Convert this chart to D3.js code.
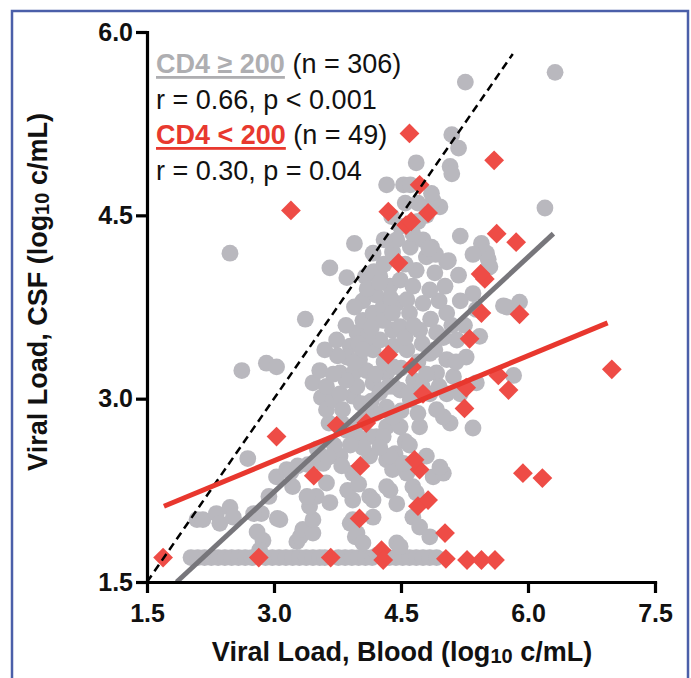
<!DOCTYPE html>
<html>
<head>
<meta charset="utf-8">
<script src="https://cdn.jsdelivr.net/npm/d3@7"></script>
<style>
  body { margin: 0; background: #fff; }
  svg text { font-family: "Liberation Sans", Arial, Helvetica, sans-serif; }
</style>
</head>
<body>
<div class="canva"></div>
<script>
// ticks
const xTicks = [1.5, 3.0, 4.5, 6.0, 7.5];
const yTicks = [1.5, 3.0, 4.5, 6.0];

// CD4 >= 200 (grey circles), [blood, csf]
const highCD4 = [
  [2.02,1.70],[2.10,1.70],[2.18,1.70],[2.26,1.70],[2.34,1.70],[2.42,1.70],[2.50,1.70],[2.58,1.70],
  [2.66,1.70],[2.74,1.70],[2.90,1.70],[2.98,1.70],[3.06,1.70],[3.14,1.70],[3.22,1.70],[3.30,1.70],
  [3.38,1.70],[3.46,1.70],[3.54,1.70],[3.60,1.70],[3.76,1.70],[3.84,1.70],[3.92,1.70],[4.00,1.70],
  [4.08,1.70],[4.16,1.70],[4.22,1.72],[4.36,1.70],[4.44,1.70],[4.52,1.70],[4.60,1.70],[4.68,1.70],
  [4.76,1.70],[4.84,1.70],[4.92,1.70],
  [2.09,2.01],[2.16,2.01],[2.32,2.06],[2.36,1.98],[2.48,2.11],[2.52,2.03],[2.80,1.91],[2.87,1.84],
  [2.83,1.76],[2.85,2.06],[3.07,2.01],[3.27,1.83],[3.31,1.87],[3.34,1.93],[3.46,1.90],[3.46,2.01],
  [3.42,2.12],[3.50,2.20],[3.66,2.15],[3.90,1.98],[3.93,2.01],[3.96,1.87],[3.98,1.90],[4.05,1.82],
  [3.93,2.17],[4.13,2.20],[4.17,2.03],[4.17,2.17],[4.37,2.25],[4.33,2.28],[4.45,1.82],[4.45,2.14],
  [4.49,1.79],[4.64,2.03],[4.72,1.95],[4.84,1.87],[4.64,2.28],[4.68,2.23],[4.57,2.39],[4.88,2.36],
  [5.00,2.39],[4.96,2.44],
  [2.69,2.51],[3.03,2.36],[3.15,2.42],[3.22,2.28],[3.39,2.20],[3.54,2.54],[3.58,2.47],[3.62,2.31],
  [3.78,2.53],[3.87,2.25],[3.93,2.39],[4.13,2.53],[4.33,2.50],[4.40,2.42],[4.43,2.55],[4.37,2.53],
  [4.53,2.47],[4.80,2.53],[3.51,2.59],[3.71,2.62],[3.64,2.52],[3.40,2.46],[3.20,2.40],[3.28,2.45],
  [2.94,2.20],[2.76,2.06],[3.04,2.02],[4.21,2.69],[4.33,2.77],[4.13,2.69],[3.98,2.69],[3.86,2.74],
  [4.29,2.69],[4.49,2.77],[4.72,2.77],[5.35,2.76],[5.08,2.80],[5.00,2.85],[4.05,2.60],[3.90,2.62],
  [4.25,2.60],[4.55,2.65],[3.80,2.45],[4.00,2.30],[4.60,2.62],[3.65,2.80],[3.80,2.80],[4.00,2.80],
  [4.40,2.85],
  [3.56,3.01],[3.62,2.91],[3.70,2.99],[3.81,2.91],[3.93,3.02],[4.03,2.96],[4.33,2.93],[4.61,2.99],
  [4.84,3.04],[4.92,2.91],[5.20,3.04],[5.04,3.04],[4.49,3.07],[3.46,3.13],[3.62,3.10],[3.78,3.04],
  [3.78,3.21],[3.94,3.21],[3.98,3.10],[4.09,3.23],[4.17,3.13],[4.33,3.21],[4.41,3.10],[4.41,3.26],
  [4.92,3.21],[5.12,3.18],[5.39,3.13],[5.83,3.19],[3.54,3.23],[2.62,3.23],[2.91,3.29],[3.03,3.26],
  [4.20,2.88],[4.10,2.85],[4.50,2.90],[4.70,2.88],[4.25,3.05],[4.65,3.15],[4.80,3.20],[4.15,2.98],
  [3.85,3.15],[4.20,3.20],[4.35,3.10],[4.50,3.25],[4.60,3.05],[4.75,3.10],[4.95,3.10],[3.70,3.20],
  [3.37,3.65],[3.74,3.48],[3.98,3.54],[4.05,3.64],[4.17,3.70],[4.29,3.75],[3.90,3.43],[3.86,3.34],
  [4.01,3.32],[4.17,3.40],[4.45,3.78],[4.40,3.56],[4.41,3.43],[4.25,3.48],[4.29,3.64],[4.49,3.59],
  [4.72,3.56],[4.92,3.54],[5.16,3.48],[5.43,3.51],[4.57,3.40],[4.84,3.37],[5.04,3.32],[5.27,3.34],
  [4.37,3.83],[4.57,3.81],[4.76,3.78],[5.04,3.70],[5.35,3.86],[5.39,3.73],[5.75,3.75],[5.90,3.79],
  [5.71,3.76],[4.10,3.50],[4.05,3.80],[4.20,3.85],[4.60,3.70],[4.85,3.65],[4.00,3.45],[4.30,3.30],
  [4.70,3.30],[5.10,3.60],[4.15,3.58],[3.95,3.30],[4.05,3.40],[3.75,3.35],[3.60,3.40],[3.85,3.60],
  [3.95,3.75],[4.40,3.70],[4.55,3.50],[4.65,3.60],[4.75,3.45],[4.90,3.40],[5.00,3.50],[5.15,3.30],
  [5.25,3.60],[5.20,3.80],[4.95,3.80],
  [3.95,4.27],[3.66,4.07],[3.86,3.99],[4.17,4.19],[4.25,4.00],[4.37,3.92],[4.49,3.97],[4.64,3.92],
  [4.84,3.89],[5.02,3.92],[4.68,4.05],[4.90,4.03],[5.18,4.01],[4.80,4.16],[5.04,4.12],[5.45,4.27],
  [5.51,4.19],[5.35,4.18],[5.55,4.08],[5.53,4.14],[5.53,4.07],[4.61,4.24],[4.86,4.24],[4.76,4.30],
  [4.64,4.35],[4.49,4.41],[4.39,4.49],[5.20,4.33],[4.91,4.18],[4.83,4.23],[5.06,4.13],[4.08,4.00],
  [4.18,4.04],[4.30,4.10],[4.40,4.20],[4.55,4.10],[2.48,4.19],[6.20,4.56],[4.10,3.90],[4.25,3.95],
  [4.45,4.30],[4.30,4.30],
  [4.96,4.57],[4.88,4.62],[4.86,4.68],[4.33,4.75],[4.53,4.75],[4.61,4.75],[4.68,4.93],
  [5.08,4.90],[5.10,4.84],[5.10,5.16],[5.18,5.05],[5.26,5.59],[6.32,5.67],[4.70,4.60],[4.55,4.60],
  [4.70,4.45],[4.80,4.50]
];

// CD4 < 200 (red diamonds), [blood, csf]
const lowCD4 = [
  [1.69,1.70],[2.82,1.70],[3.67,1.70],[4.27,1.76],[4.29,1.68],[5.03,1.69],[5.28,1.68],[5.45,1.68],
  [5.61,1.68],[5.02,1.90],[4.01,2.02],[4.70,2.12],[4.82,2.17],[4.72,2.42],[4.66,2.50],[4.02,2.45],
  [3.47,2.37],[5.94,2.39],[6.17,2.35],[3.03,2.69],[3.74,2.78],[4.09,2.80],[5.25,2.92],[5.27,3.09],
  [4.76,3.04],[5.77,3.07],[5.65,3.19],[4.63,3.26],[6.99,3.24],[4.35,3.36],[5.31,3.49],[5.45,3.70],
  [5.90,3.69],[5.49,3.98],[5.44,4.02],[4.47,4.11],[5.63,4.35],[5.86,4.28],[4.56,4.42],[4.62,4.45],
  [4.35,4.53],[4.82,4.52],[3.20,4.54],[4.72,4.75],[5.60,4.95],[4.60,5.17]
];

// fitted lines
const identityLine = [[1.5,1.5],[5.82,5.82]];
const highFit = [[1.85,1.5],[6.30,4.35]];
const lowFit = [[1.70,2.12],[6.94,3.62]];

const legendHigh = ["CD4 \u2265 200", " (n = 306)", "r = 0.66, p < 0.001"];
const legendLow = ["CD4 < 200", " (n = 49)", "r = 0.30, p = 0.04"];

const grey = "#b9b8be", red = "#ee4c46";

const svg = d3.select(".canva").append("svg")
              .attr("width", 691)
              .attr("height", 678);

// frame
svg.append("rect")
   .attr("x", 12).attr("y", 11)
   .attr("width", 676).attr("height", 700)
   .attr("fill", "none")
   .attr("stroke", "#4b5fa9")
   .attr("stroke-width", 2.5);

var x = d3.scaleLinear().domain([1.5, 7.5]).range([147, 655]);
var y = d3.scaleLinear().domain([1.5, 6.0]).range([582, 32]);

// points
svg.append("g").selectAll("circle")
   .data(highCD4)
   .enter().append("circle")
   .attr("cx", d => x(d[0]))
   .attr("cy", d => y(d[1]))
   .attr("r", 8.4)
   .attr("fill", grey);

var diamond = d3.symbol().type(d3.symbolSquare).size(196);
svg.append("g").selectAll("path")
   .data(lowCD4)
   .enter().append("path")
   .attr("d", diamond)
   .attr("transform", d => `translate(${x(d[0])},${y(d[1])}) rotate(45)`)
   .attr("fill", red);

var line = d3.line().x(d => x(d[0])).y(d => y(d[1]));

svg.append("path").attr("d", line(identityLine))
   .attr("stroke", "#000").attr("stroke-width", 2.5)
   .attr("stroke-dasharray", "8,5").attr("fill", "none");
svg.append("path").attr("d", line(highFit))
   .attr("stroke", "#77767b").attr("stroke-width", 5).attr("fill", "none");
svg.append("path").attr("d", line(lowFit))
   .attr("stroke", "#e8372e").attr("stroke-width", 5).attr("fill", "none");

// axes
var xAxis = d3.axisBottom(x).tickValues(xTicks).tickFormat(d3.format(".1f"))
              .tickSize(11).tickPadding(11).tickSizeOuter(0);
var yAxis = d3.axisLeft(y).tickValues(yTicks).tickFormat(d3.format(".1f"))
              .tickSize(11).tickPadding(3).tickSizeOuter(0);

const gx = svg.append("g").attr("transform", "translate(0,582)").call(xAxis);
const gy = svg.append("g").attr("transform", "translate(147,0)").call(yAxis);

[gx, gy].forEach(g => {
  g.select(".domain").attr("stroke-width", 3.2).attr("stroke-linecap", "square");
  g.selectAll(".tick line").attr("stroke-width", 3.2);
  g.selectAll(".tick text")
   .attr("font-size", 25).attr("font-weight", "bold").attr("fill", "#111")
   .style("font-family", "'Liberation Sans', Arial, sans-serif");
});

// axis titles
const xTitle = svg.append("text")
   .attr("x", 402).attr("y", 661)
   .attr("text-anchor", "middle")
   .attr("font-size", 27).attr("font-weight", "bold").attr("fill", "#111");
xTitle.append("tspan").text("Viral Load, Blood (log");
xTitle.append("tspan").attr("font-size", 20).attr("dy", 2).text("10");
xTitle.append("tspan").attr("dy", -2).text(" c/mL)");

const yTitle = svg.append("text")
   .attr("transform", "translate(47,292) rotate(-90)")
   .attr("text-anchor", "middle")
   .attr("font-size", 27).attr("font-weight", "bold").attr("fill", "#111");
yTitle.append("tspan").text("Viral Load, CSF (log");
yTitle.append("tspan").attr("font-size", 20).attr("dy", 2).text("10");
yTitle.append("tspan").attr("dy", -2).text(" c/mL)");

// legend
function legendBlock(labels, colour, top) {
  const lab = svg.append("text")
     .attr("x", 156).attr("y", top)
     .attr("font-size", 27).attr("font-weight", "bold").attr("fill", colour)
     .text(labels[0]);
  const w = lab.node().getComputedTextLength();
  svg.append("rect")
     .attr("x", 156).attr("y", top + 3)
     .attr("width", w).attr("height", 2.8)
     .attr("fill", colour);
  svg.append("text")
     .attr("x", 156 + w).attr("y", top)
     .attr("font-size", 27).attr("fill", "#111")
     .style("white-space", "pre")
     .text(labels[1]);
  svg.append("text")
     .attr("x", 156).attr("y", top + 35.5)
     .attr("font-size", 27).attr("fill", "#111")
     .text(labels[2]);
}
legendBlock(legendHigh, "#aeaeb1", 73);
legendBlock(legendLow, "#e8392f", 144);
</script>
</body>
</html>
